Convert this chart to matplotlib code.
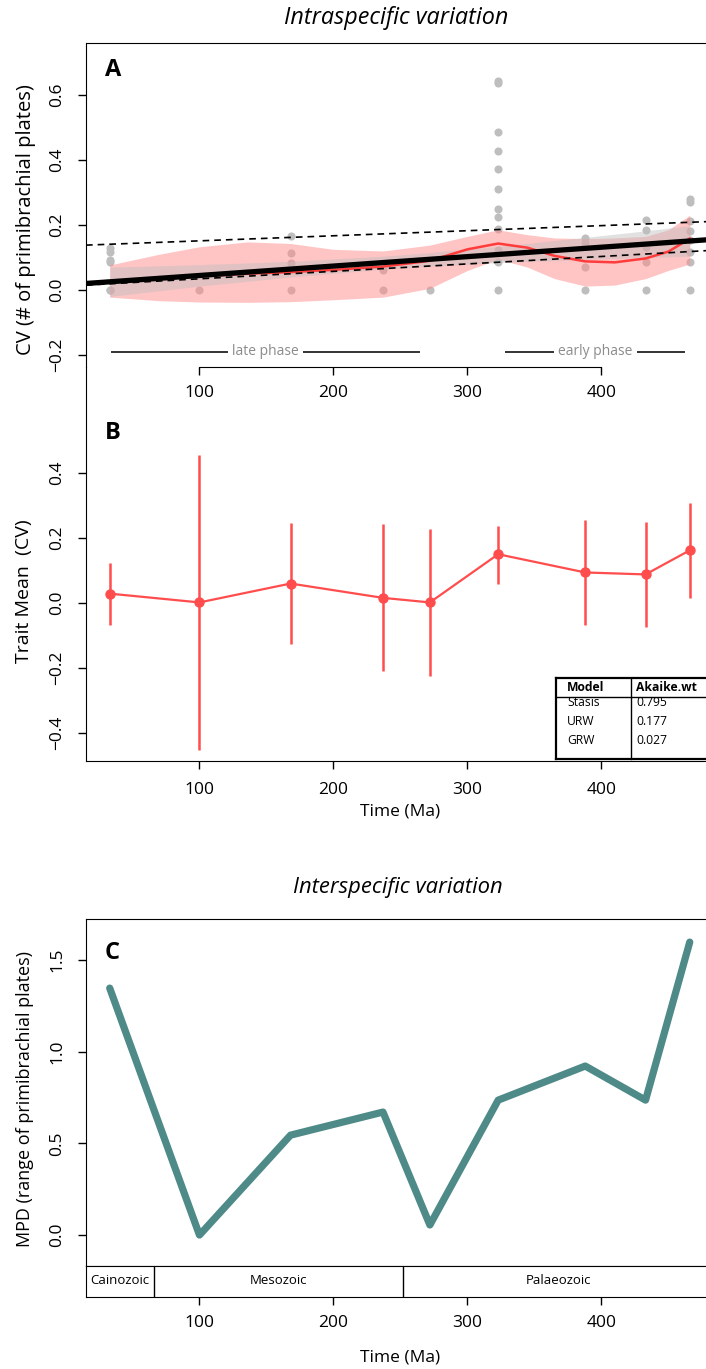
import numpy as np
import matplotlib
matplotlib.use("Agg")
import matplotlib.pyplot as plt
from matplotlib.lines import Line2D

plt.rcParams['font.family'] = ['Open Sans', 'DejaVu Sans']

# time bins (Ma)
time = [33, 100, 168, 237, 272, 323, 388, 433, 466]

# panel A: raw CV values per sample
cv_time = ([33] * 6 + [100] + [168] * 4 + [237] * 2 + [272] + [323] * 12
           + [388] * 4 + [433] * 5 + [466] * 8)
cv_value = [0.128, 0.118, 0.092, 0.085, 0.0, 0.0,
            0.0,
            0.166, 0.115, 0.082, 0.0,
            0.062, 0.0,
            0.0,
            0.643, 0.636, 0.487, 0.429, 0.372, 0.310, 0.248, 0.224, 0.187, 0.123, 0.087, 0.0,
            0.159, 0.146, 0.072, 0.0,
            0.215, 0.185, 0.131, 0.085, 0.0,
            0.279, 0.272, 0.213, 0.180, 0.154, 0.118, 0.087, 0.0]

# loess fit and its band
lo_x = [33, 70, 100, 136, 168, 200, 237, 272, 300, 323, 345, 365, 388, 410, 433, 450, 466]
lo_y = [0.025, 0.035, 0.042, 0.050, 0.055, 0.062, 0.072, 0.090, 0.125, 0.143, 0.130,
        0.105, 0.088, 0.085, 0.097, 0.118, 0.158]
lo_up = [0.077, 0.110, 0.133, 0.148, 0.143, 0.125, 0.120, 0.138, 0.165, 0.185, 0.170,
         0.160, 0.158, 0.160, 0.165, 0.185, 0.230]
lo_dn = [-0.022, -0.033, -0.037, -0.038, -0.036, -0.030, -0.022, 0.005, 0.060, 0.095,
         0.070, 0.035, 0.012, 0.015, 0.035, 0.060, 0.080]

# linear fit band
lm_up = [0.070, 0.078, 0.088, 0.104, 0.115, 0.134, 0.162, 0.182, 0.198]
lm_dn = [-0.020, 0.012, 0.040, 0.064, 0.073, 0.084, 0.094, 0.100, 0.104]

# regression lines (intercept, slope)
fit_main = (0.0156, 0.00029)
fit_upper = (0.1356, 0.000156)
fit_lower = (0.0115, 0.000229)

phases = [('late phase', 34.6, 264), ('early phase', 329, 462)]

# panel B: trait means with intervals
mean_cv = [0.028, 0.001, 0.059, 0.015, 0.001, 0.149, 0.093, 0.087, 0.161]
mean_hi = [0.123, 0.454, 0.245, 0.242, 0.227, 0.237, 0.254, 0.248, 0.305]
mean_lo = [-0.069, -0.451, -0.126, -0.211, -0.226, 0.059, -0.068, -0.074, 0.015]

models = ['Stasis', 'URW', 'GRW']
akaike_wt = [0.795, 0.177, 0.027]

# panel C: MPD
mpd = [1.347, 0.0, 0.545, 0.671, 0.055, 0.736, 0.922, 0.736, 1.598]

eras = ['Cainozoic', 'Mesozoic', 'Palaeozoic']
era_bounds = [0, 66, 252, 541]

W, H = 706, 1369
def fx(p): return p / W
def fy(p): return 1 - p / H

fig = plt.figure(figsize=(W / 100, H / 100), dpi=100)
xl = (15.3, 484.7)
L, R = 86, 714.8
red = '#ff4d4d'
tick_kw = dict(direction='out', length=6, width=1, labelsize=12.5)

def yticks_rot(ax):
    for t in ax.get_yticklabels():
        t.set_rotation(90)
        t.set_va('center')

# ---------- panel A
axA = fig.add_axes([fx(L), fy(367), fx(R) - fx(L), fy(43) - fy(367)])
axA.set_xlim(*xl)
axA.set_ylim(-0.237, 0.760)
axA.scatter(cv_time, cv_value, s=34, color='#bebebe', zorder=1, linewidths=0)
axA.fill_between(lo_x, lo_dn, lo_up, color='#ff8a8a', alpha=0.5, lw=0, zorder=2)
axA.fill_between(time, lm_dn, lm_up, color='#bebebe', alpha=0.45, lw=0, zorder=3)
axA.plot(lo_x, lo_y, color='#ff3b3b', lw=1.8, zorder=4)
xx = np.array(xl)
axA.plot(xx, fit_main[0] + fit_main[1] * xx, color='black', lw=3.8, zorder=5,
         solid_capstyle='butt')
for a, b in (fit_upper, fit_lower):
    axA.plot(xx, a + b * xx, color='black', lw=1.2, ls=(0, (4, 3)), zorder=5)
for name, x0, x1 in phases:
    axA.plot([x0, x1], [-0.19, -0.19], color='#333333', lw=1.4, zorder=5)
    axA.text((x0 + x1) / 2, -0.19, name, color='#8c8c8c', fontsize=10,
             ha='center', va='center', zorder=6,
             bbox=dict(boxstyle='square,pad=0.3', fc='white', ec='none'))
axA.spines['bottom'].set_bounds(100, 400)
axA.set_xticks([100, 200, 300, 400])
axA.set_yticks([-0.2, 0.0, 0.2, 0.4, 0.6])
axA.tick_params(**tick_kw)
axA.tick_params(axis='x', pad=7)
axA.tick_params(axis='y', pad=9)
yticks_rot(axA)
axA.set_ylabel('CV (# of primibrachial plates)', fontsize=14.5)
axA.yaxis.set_label_coords(-0.080, 0.454)
axA.text(0.03, 0.917, 'A', transform=axA.transAxes, fontsize=17, fontweight='bold',
         va='center', ha='left')

# ---------- panel B
axB = fig.add_axes([fx(L), fy(761), fx(R) - fx(L), fy(367) - fy(761)])
axB.set_xlim(*xl)
axB.set_ylim(-0.486, 0.724)
axB.patch.set_alpha(0)
axB.spines['top'].set_visible(False)
axB.vlines(time, mean_lo, mean_hi, color=red, lw=1.8)
axB.plot(time, mean_cv, color=red, lw=1.6, marker='o', ms=6.5)
axB.set_xticks([100, 200, 300, 400])
axB.set_yticks([-0.4, -0.2, 0.0, 0.2, 0.4])
axB.tick_params(**tick_kw)
axB.tick_params(axis='x', pad=9)
axB.tick_params(axis='y', pad=9)
yticks_rot(axB)
axB.set_ylabel('Trait Mean  (CV)', fontsize=14)
axB.yaxis.set_label_coords(-0.085, 0.43)
axB.text(0.03, 0.832, 'B', transform=axB.transAxes, fontsize=17, fontweight='bold',
         va='center', ha='left')
fig.text(fx(400), fy(812), 'Time (Ma)', ha='center', va='center', fontsize=12.5)

# table of model weights
tx0, tx1, txm = 556, 720, 631
ty0, ty1, tym = 678, 759, 697
for xs, ys, lw in [((tx0, tx1), (ty0, ty0), 1.6), ((tx0, tx1), (ty1, ty1), 1.6),
                   ((tx0, tx0), (ty0, ty1), 1.6), ((txm, txm), (ty0, ty1), 1.0),
                   ((tx0, tx1), (tym, tym), 1.0)]:
    fig.add_artist(Line2D([fx(v) for v in xs], [fy(v) for v in ys], color='black', lw=lw))
fig.text(fx(567), fy(687), 'Model', fontsize=8.7, fontweight='bold', va='center')
fig.text(fx(636), fy(687), 'Akaike.wt', fontsize=8.7, fontweight='bold', va='center')
for i, (m, w) in enumerate(zip(models, akaike_wt)):
    yy = 703 + i * 18.5
    fig.text(fx(567), fy(yy), m, fontsize=8.7, va='center')
    fig.text(fx(636), fy(yy), f'{w:.3f}', fontsize=8.7, va='center')

fig.text(fx(396), fy(18), 'Intraspecific variation', ha='center', va='center',
         fontsize=16.8, style='italic')

# ---------- panel C
axC = fig.add_axes([fx(L), fy(1265.5), fx(R) - fx(L), fy(919) - fy(1265.5)])
axC.set_xlim(*xl)
axC.set_ylim(-0.166, 1.724)
axC.plot(time, mpd, color='#4e8a88', lw=5.2, solid_joinstyle='round',
         solid_capstyle='round')
axC.set_xticks([])
axC.set_yticks([0.0, 0.5, 1.0, 1.5])
axC.tick_params(**tick_kw)
axC.tick_params(axis='y', pad=9)
yticks_rot(axC)
axC.set_ylabel('MPD (range of primibrachial plates)', fontsize=13)
axC.yaxis.set_label_coords(-0.083, 0.48)
axC.text(0.03, 0.902, 'C', transform=axC.transAxes, fontsize=17, fontweight='bold',
         va='center', ha='left')
fig.text(fx(398), fy(888), 'Interspecific variation', ha='center', va='center',
         fontsize=15.8, style='italic')

# era bar
axE = fig.add_axes([fx(L), fy(1296.5), fx(R) - fx(L), fy(1265.5) - fy(1296.5)])
axE.set_xlim(*xl)
axE.set_ylim(0, 1)
for b in era_bounds[1:-1]:
    axE.axvline(b, color='black', lw=1)
for name, a, b in zip(eras, era_bounds[:-1], era_bounds[1:]):
    c = (max(a, xl[0]) + min(b, xl[1])) / 2
    axE.text(c, 0.5, name, ha='center', va='center', fontsize=9.5)
axE.set_yticks([])
axE.set_xticks([100, 200, 300, 400])
axE.tick_params(**tick_kw)
axE.tick_params(axis='x', pad=7)
fig.text(fx(400), fy(1357), 'Time (Ma)', ha='center', va='center', fontsize=12.5)

fig.savefig('out.png', dpi=100)
